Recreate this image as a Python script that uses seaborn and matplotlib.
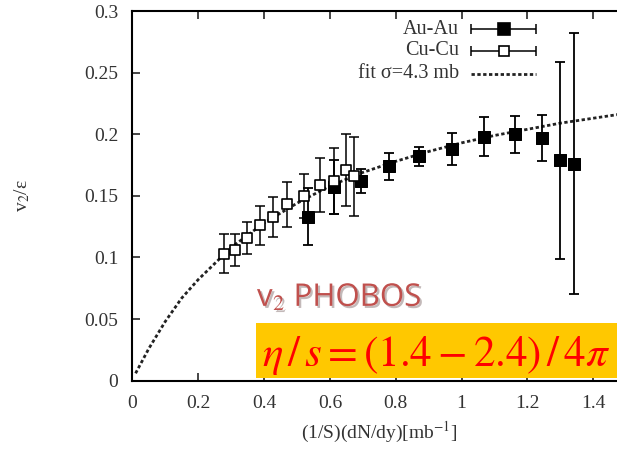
import matplotlib
matplotlib.use("Agg")
import matplotlib.pyplot as plt
import matplotlib.patheffects as pe
from matplotlib.patches import Rectangle
import pandas as pd
import seaborn as sns

# Datos
au_x = [0.534, 0.612, 0.694, 0.780, 0.871, 0.971, 1.068, 1.162, 1.244, 1.299, 1.341]
au_y = [0.133, 0.157, 0.162, 0.174, 0.182, 0.188, 0.198, 0.200, 0.197, 0.179, 0.176]
au_err = [0.023, 0.022, 0.010, 0.011, 0.008, 0.013, 0.016, 0.015, 0.019, 0.080, 0.106]

cu_x = [0.278, 0.311, 0.349, 0.387, 0.428, 0.471, 0.521, 0.570, 0.613, 0.650, 0.674]
cu_y = [0.103, 0.106, 0.116, 0.126, 0.133, 0.143, 0.150, 0.159, 0.162, 0.171, 0.166]
cu_err = [0.016, 0.013, 0.013, 0.016, 0.016, 0.018, 0.018, 0.022, 0.027, 0.029, 0.032]

# curva del ajuste (sigma = 4.3 mb)
fit_x = [0.01, 0.05, 0.1, 0.15, 0.2, 0.3, 0.4, 0.5, 0.6, 0.7, 0.8, 0.9, 1.0, 1.1, 1.2, 1.3, 1.4, 1.5]
fit_y = [0.006, 0.026, 0.048, 0.067, 0.082, 0.108, 0.128, 0.144, 0.158, 0.169, 0.178, 0.186, 0.193, 0.199, 0.204, 0.209, 0.213, 0.217]

fit_df = pd.DataFrame({'x': fit_x, 'y': fit_y})

sns.set_theme(style="ticks")
plt.rcParams['font.family'] = ['Liberation Serif', 'DejaVu Serif']
plt.rcParams['mathtext.fontset'] = 'stix'

fig = plt.figure(figsize=(6.17, 4.57), dpi=100)
x0, x1 = 132.3, 132.3 + 1.5 * 329.3
ax = fig.add_axes([x0 / 617, (457 - 380.7) / 457, (x1 - x0) / 617, 369.7 / 457])

# Ajuste
sns.lineplot(data=fit_df, x='x', y='y', ax=ax, color='#222222', lw=2,
             linestyle=(0, (1.2, 0.9)), legend=False)

# Au-Au
ax.errorbar(au_x, au_y, yerr=au_err, fmt='none', ecolor='black', elinewidth=1.3,
            capsize=3.5, capthick=1.3, zorder=3)
sns.scatterplot(x=au_x, y=au_y, ax=ax, marker='s', s=80, color='black',
                edgecolor='black', zorder=4)

# Cu-Cu
ax.errorbar(cu_x, cu_y, yerr=cu_err, fmt='none', ecolor='black', elinewidth=1.1,
            capsize=3.5, capthick=1.1, zorder=3)
sns.scatterplot(x=cu_x, y=cu_y, ax=ax, marker='s', s=55, facecolor='white',
                edgecolor='black', linewidth=1.2, zorder=4)

ax.set_xlim(0, 1.5)
ax.set_ylim(0, 0.3)
ax.set_xticks([0, 0.2, 0.4, 0.6, 0.8, 1.0, 1.2, 1.4])
ax.set_xticklabels(['0', '0.2', '0.4', '0.6', '0.8', '1', '1.2', '1.4'])
ax.set_yticks([0, 0.05, 0.1, 0.15, 0.2, 0.25, 0.3])
ax.set_yticklabels(['0', '0.05', '0.1', '0.15', '0.2', '0.25', '0.3'])
ax.tick_params(direction='in', length=6, width=1.2, top=True, right=True,
               labelsize=14, labelcolor='#333333', pad=10)
for s in ax.spines.values():
    s.set_linewidth(1.5)
    s.set_color('black')

ax.set_xlabel('(1/S)(dN/dy)[mb$^{-1}$]', fontsize=14, color='#333333', labelpad=6)
ax.set_ylabel('v$_2$/ε', fontsize=14, color='#333333', labelpad=38)

# Leyenda al estilo gnuplot
leg_rows = [('Au-Au', 0.951, 'filled'), ('Cu-Cu', 0.892, 'open'), ('fit σ=4.3 mb', 0.830, 'fit')]
lx0, lx1, lxm = 0.686, 0.818, 0.752
for label, yy, kind in leg_rows:
    ax.text(0.662, yy, label, transform=ax.transAxes, ha='right', va='center',
            fontsize=14.5, color='#333333')
    if kind == 'fit':
        ax.plot([lx0, lx1], [yy, yy], transform=ax.transAxes, color='#222222',
                lw=2, linestyle=(0, (1.2, 0.9)))
    else:
        ax.errorbar([lxm], [yy], xerr=[lxm - lx0], transform=ax.transAxes, fmt='none',
                    ecolor='black', elinewidth=1.1, capsize=3.5, capthick=1.1)
        ax.plot([lxm], [yy], transform=ax.transAxes, marker='s',
                markersize=8 if kind == 'filled' else 7,
                markerfacecolor='black' if kind == 'filled' else 'white',
                markeredgecolor='black', markeredgewidth=1.2, linestyle='none')

# Anotaciones
fig.text(257 / 617, 1 - 306 / 457, 'v$_2$ PHOBOS', fontsize=22.5, color='#c0504d',
         family=['Open Sans', 'DejaVu Sans'], ha='left', va='baseline',
         path_effects=[pe.withSimplePatchShadow(offset=(1.5, -1.5), alpha=0.3)])
fig.patches.append(Rectangle((256 / 617, 1 - 378.3 / 457), (617 - 256) / 617, 55.6 / 457,
                             transform=fig.transFigure, facecolor='#ffc800',
                             edgecolor='none', zorder=5))
fig.text(262 / 617, 1 - 366 / 457, r'$\eta\,/\,s = (1.4 - 2.4)\,/\,4\pi$', fontsize=31,
         color='#ff0000', ha='left', va='baseline', zorder=6)

fig.savefig('out.png', dpi=100)
